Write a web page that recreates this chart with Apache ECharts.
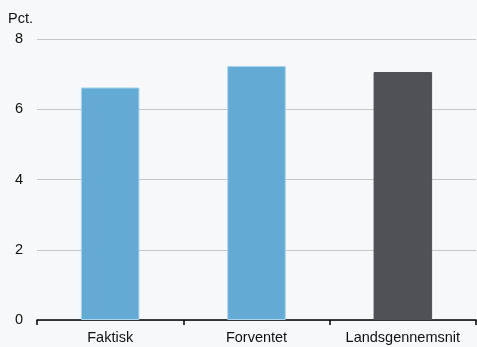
<!DOCTYPE html>
<html><head><meta charset="utf-8">
<script src="https://cdn.jsdelivr.net/npm/echarts@6/dist/echarts.min.js"></script>
<style>html,body{margin:0;padding:0;background:#f6f8f9}#c{width:477px;height:347px}</style>
</head><body><div id="c"></div>
<script>
var categories = ['Faktisk', 'Forventet', 'Landsgennemsnit'];
var values = [6.62, 7.23, 7.06];
var barColors = ['#63aad5', '#63aad5', '#505157'];
var yTicks = {min: 0, max: 8, interval: 2};
var yUnit = 'Pct.';

var FONT = 'Liberation Sans, Arial, sans-serif';
var chart = echarts.init(document.getElementById('c'));
chart.setOption({
  backgroundColor: '#f6f8f9',
  animation: false,
  grid: {left: 37, right: 1, top: 39, bottom: 27},
  textStyle: {fontFamily: FONT},
  graphic: [{type: 'text', left: 8, top: 11, style: {text: yUnit, font: '14.5px ' + FONT, fill: '#111'}}],
  xAxis: {
    type: 'category', data: categories,
    axisLine: {lineStyle: {color: '#000', width: 1.5}},
    axisTick: {show: true, interval: 0, length: 5, lineStyle: {color: '#000', width: 1.5}},
    axisLabel: {color: '#111', fontSize: 14.5, margin: 10, interval: 0, hideOverlap: false, fontFamily: FONT}
  },
  yAxis: {
    type: 'value', min: yTicks.min, max: yTicks.max, interval: yTicks.interval,
    axisLine: {show: false}, axisTick: {show: false},
    axisLabel: {color: '#111', fontSize: 14.5, margin: 14, fontFamily: FONT},
    splitLine: {lineStyle: {color: '#c4c6c8', width: 1}}
  },
  series: [{
    type: 'bar', barWidth: '40%',
    data: values.map(function (v, i) {
      return {value: v, itemStyle: {color: barColors[i], borderColor: i < 2 ? '#a9d3ee' : barColors[i], borderWidth: 1}};
    })
  }]
});
</script></body></html>
